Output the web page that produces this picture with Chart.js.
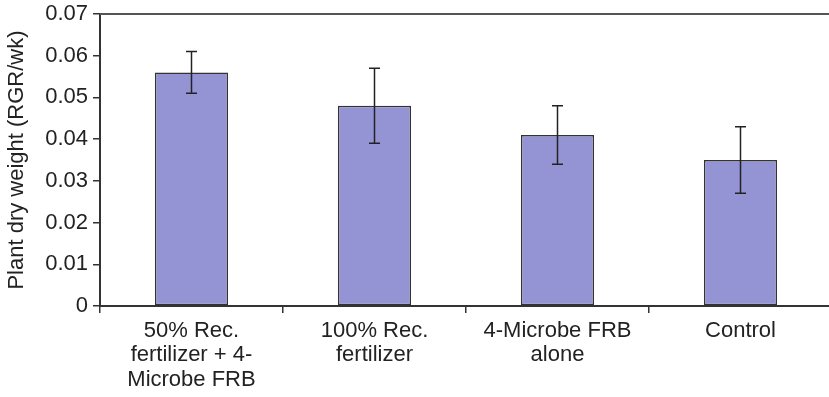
<!DOCTYPE html>
<html>
<head>
<meta charset="utf-8">
<script src="https://cdn.jsdelivr.net/npm/chart.js@4/dist/chart.umd.min.js"></script>
<style>
  html, body { margin: 0; padding: 0; background: #fff; overflow: hidden; }
  #wrap { width: 833px; height: 397px; position: relative; }
</style>
</head>
<body>
<div id="wrap"><canvas id="chart"></canvas></div>
<script>
// data
const categories = [
    ["50% Rec.", "fertilizer + 4-", "Microbe FRB"],
    ["100% Rec.", "fertilizer"],
    ["4-Microbe FRB", "alone"],
    ["Control"]
];
const rgr = [0.056, 0.048, 0.041, 0.035];
const errLow = [0.051, 0.039, 0.034, 0.027];
const errHigh = [0.061, 0.057, 0.048, 0.043];
const yTicks = [0, 0.01, 0.02, 0.03, 0.04, 0.05, 0.06, 0.07];

const FONT = "'Liberation Sans', Arial, sans-serif";
const INK = "#222";

// error bars + top frame line
const errorBars = {
    id: "errorBars",
    afterDatasetsDraw(chart) {
        const { ctx, scales: { x, y } } = chart;
        ctx.save();
        ctx.strokeStyle = "#222";
        ctx.lineWidth = 1.5;
        for (let i = 0; i < rgr.length; i++) {
            const cx = x.getPixelForValue(i);
            const yTop = y.getPixelForValue(errHigh[i]);
            const yBot = y.getPixelForValue(errLow[i]);
            ctx.beginPath();
            ctx.moveTo(cx, yTop);
            ctx.lineTo(cx, yBot);
            ctx.moveTo(cx - 5.5, yTop);
            ctx.lineTo(cx + 5.5, yTop);
            ctx.moveTo(cx - 5.5, yBot);
            ctx.lineTo(cx + 5.5, yBot);
            ctx.stroke();
        }
        ctx.restore();
    },
    afterDraw(chart) {
        const { ctx, chartArea } = chart;
        ctx.save();
        ctx.strokeStyle = "#555";
        ctx.lineWidth = 2;
        ctx.beginPath();
        ctx.moveTo(chartArea.left, chartArea.top);
        ctx.lineTo(chartArea.right, chartArea.top);
        ctx.stroke();
        ctx.restore();
    }
};

new Chart(document.getElementById("chart"), {
    type: "bar",
    data: {
        labels: categories,
        datasets: [{
            data: rgr,
            backgroundColor: "rgb(148,148,212)",
            borderColor: "#333",
            borderWidth: 1.5,
            borderSkipped: false,
            barPercentage: 0.4,
            categoryPercentage: 1
        }]
    },
    options: {
        responsive: true,
        maintainAspectRatio: false,
        animation: false,
        layout: { padding: { top: 14, right: 1, left: 0, bottom: 0 } },
        plugins: {
            legend: { display: false },
            tooltip: { enabled: false }
        },
        scales: {
            x: {
                offset: true,
                grid: {
                    offset: true,
                    drawOnChartArea: false,
                    drawTicks: true,
                    tickLength: 7,
                    tickColor: "#333",
                    lineWidth: 1.5
                },
                border: { color: "#333", width: 2 },
                ticks: {
                    color: INK,
                    font: { family: FONT, size: 22, lineHeight: 1.1 },
                    maxRotation: 0,
                    autoSkip: false,
                    padding: 6
                },
                afterFit(scale) { scale.height = 91; }
            },
            y: {
                min: 0,
                max: 0.07,
                afterBuildTicks(scale) {
                    scale.ticks = yTicks.map(v => ({ value: v }));
                },
                grid: {
                    drawOnChartArea: false,
                    tickLength: 7,
                    tickColor: "#333",
                    lineWidth: 1.5
                },
                border: { color: "#333", width: 2 },
                ticks: {
                    color: INK,
                    font: { family: FONT, size: 22, lineHeight: 0.8 },
                    padding: 5,
                    callback: v => v === 0 ? "0" : v.toFixed(2)
                },
                title: {
                    display: true,
                    text: "Plant dry weight (RGR/wk)",
                    color: INK,
                    font: { family: FONT, size: 22 },
                    padding: { top: 4, bottom: 0 }
                },
                afterFit(scale) { scale.width = 100; }
            }
        }
    },
    plugins: [errorBars]
});
</script>
</body>
</html>
